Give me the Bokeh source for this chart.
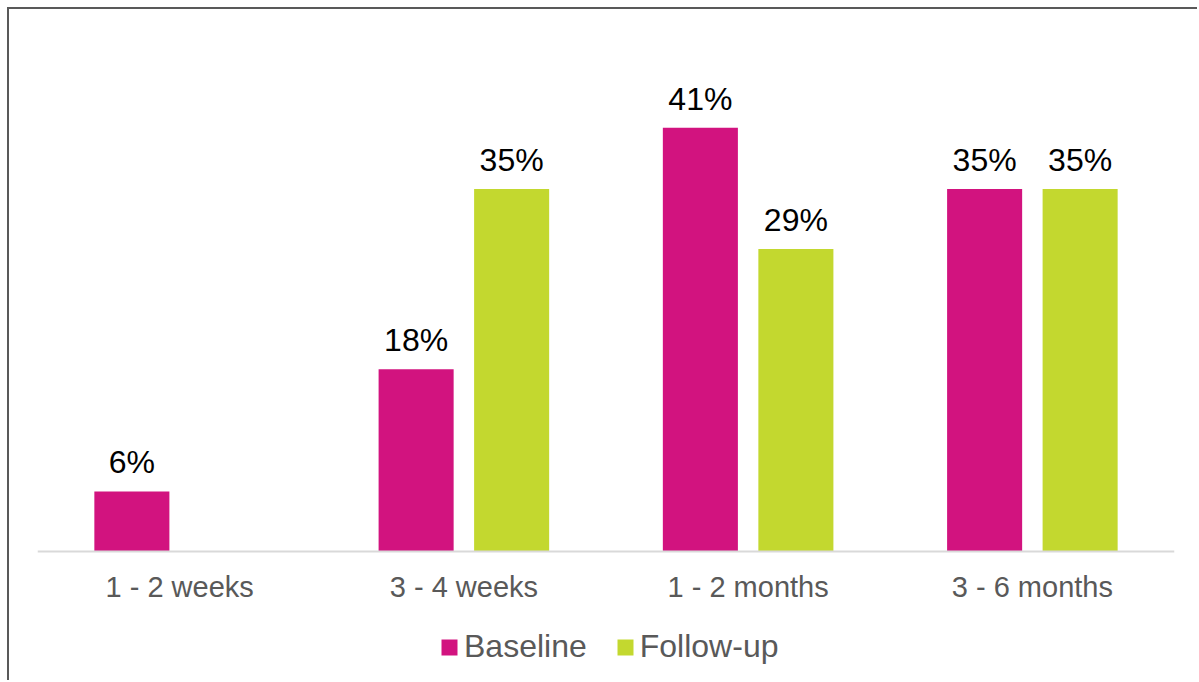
from bokeh.plotting import figure
from bokeh.models import ColumnDataSource, FactorRange, LabelSet, Legend, LegendItem, Span
from bokeh.core.properties import value
from bokeh.transform import dodge
from bokeh.embed import file_html
from bokeh.resources import INLINE

categories = ["1 - 2 weeks", "3 - 4 weeks", "1 - 2 months", "3 - 6 months"]
baseline = [5.8, 17.6, 40.9, 35.0]
follow_up = [None, 35.0, 29.2, 35.0]

FONT = "Liberation Sans"
C_BASE = "#D2137F"
C_FOLL = "#C3D82F"

src = ColumnDataSource(dict(
    cat=categories,
    base=baseline,
    foll=[float("nan") if v is None else v for v in follow_up],
))

W, H = 1190, 673
p = figure(x_range=FactorRange(factors=categories, range_padding=0),
           y_range=(-12.645, 50.29),
           width=W, height=H, output_backend="svg", toolbar_location=None,
           x_axis_location=None, y_axis_location=None,
           min_border_left=28, min_border_right=25, min_border_top=21, min_border_bottom=0)
p.styles = {"margin-left": "7px", "margin-top": "7px",
            "border-left": "2px solid #595959", "border-top": "2px solid #595959"}
p.outline_line_color = None
p.xgrid.grid_line_color = None
p.ygrid.grid_line_color = None

off = 0.168
bw = 0.264
r1 = p.vbar(x=dodge("cat", -off, range=p.x_range), top="base", width=bw, source=src,
            fill_color=C_BASE, line_color=None)
r2 = p.vbar(x=dodge("cat", off, range=p.x_range), top="foll", width=bw, source=src,
            fill_color=C_FOLL, line_color=None)

# category axis line and labels
p.add_layout(Span(location=0, dimension="width", line_color="#D9D9D9", line_width=2))
p.text(x="cat", y=0, text="cat", source=src, y_offset=36,
       text_align="center", text_baseline="alphabetic",
       text_font=value(FONT), text_font_size="29px", text_color="#595959")

lab_b = ColumnDataSource(dict(cat=categories, v=baseline, t=[f"{round(v)}%" for v in baseline]))
fc = [c for c, v in zip(categories, follow_up) if v is not None]
fv = [v for v in follow_up if v is not None]
lab_f = ColumnDataSource(dict(cat=fc, v=fv, t=[f"{round(v)}%" for v in fv]))
for s, o in ((lab_b, -off), (lab_f, off)):
    p.add_layout(LabelSet(x=dodge("cat", o, range=p.x_range), y="v", text="t", source=s,
                          y_offset=18, text_align="center", text_baseline="alphabetic",
                          text_font=value(FONT), text_font_size=value("32px"),
                          text_color=value("#000000")))

legend = Legend(items=[LegendItem(label="Baseline", renderers=[r1]),
                       LegendItem(label="Follow-up", renderers=[r2])],
                orientation="horizontal", location=(402, 17),
                glyph_width=20, glyph_height=20, label_standoff=5, spacing=28,
                padding=0, margin=0, border_line_color=None, background_fill_alpha=0,
                label_text_font=FONT, label_text_font_size="32px",
                label_text_color="#595959")
p.add_layout(legend, "center")

open("out.html", "w").write(file_html(p, INLINE))
